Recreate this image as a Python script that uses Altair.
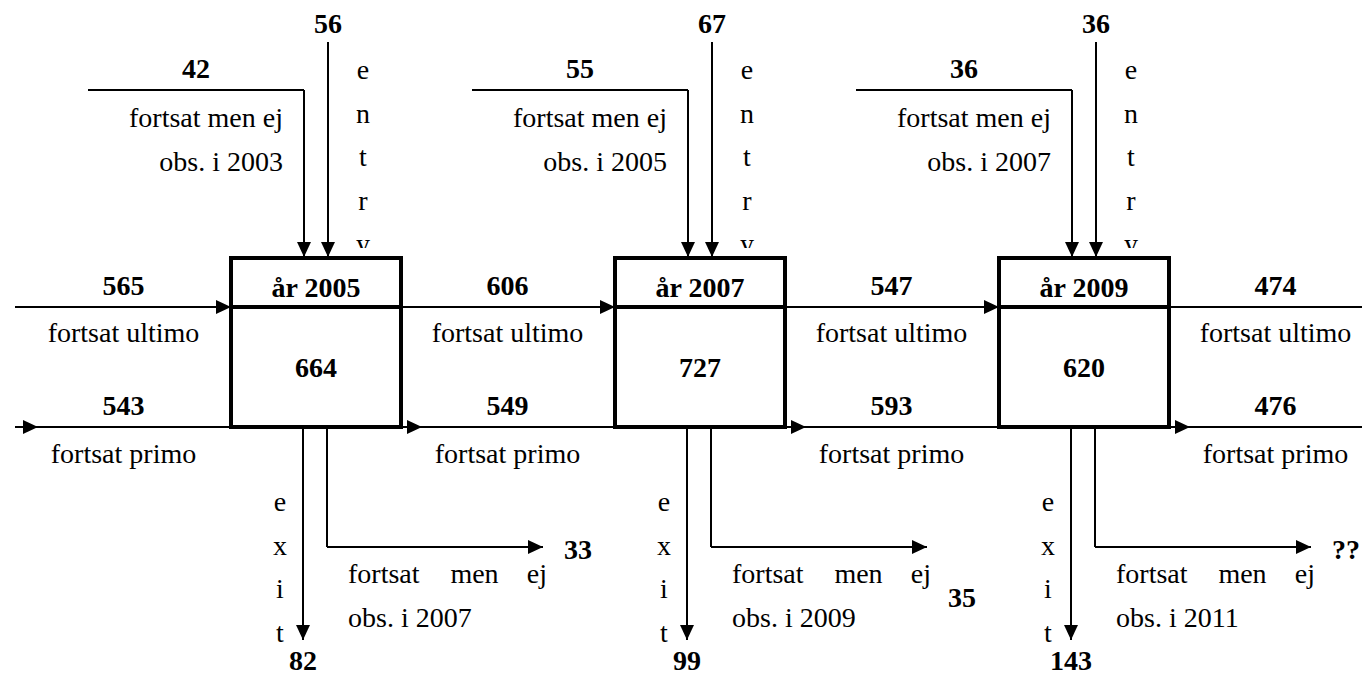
import altair as alt
import pandas as pd

# ---------------- data ----------------
years = [2005, 2007, 2009]
box_totals = [664, 727, 620]
entries = [56, 67, 36]
cont_unobserved_in = [42, 55, 36]
ultimo = [565, 606, 547, 474]
primo = [543, 549, 593, 476]
exits = [82, 99, 143]
cont_unobserved_out = ["33", "35", "??"]

# ---------------- layout (pixels) ----------------
FONT = "Liberation Serif"
FS = 28
X0, STEP, BW = 231, 384, 170
TOP, DIV, BOT = 258, 307, 427
out_label_dy = [0, 48, 0]


def bx(i):
    return X0 + i * STEP


thin, thick, boxes, masks = [], [], [], []
tips_right, tips_down = [], []
bold_c, reg_c, reg_r, reg_l = [], [], [], []

# main horizontal flow lines
thin.append(dict(x=15, y=DIV, x2=1376, y2=DIV))
thin.append(dict(x=15, y=BOT, x2=1376, y2=BOT))

for i in range(4):
    b = bx(i)
    tips_right.append(dict(x=b, y=DIV))
    tips_right.append(dict(x=b - 193, y=BOT))
    bold_c.append(dict(x=b - 107.5, y=295, t=str(ultimo[i])))
    reg_c.append(dict(x=b - 107.5, y=342, t="fortsat ultimo"))
    bold_c.append(dict(x=b - 107.5, y=415, t=str(primo[i])))
    reg_c.append(dict(x=b - 107.5, y=463, t="fortsat primo"))

for i, yr in enumerate(years):
    b = bx(i)
    # entry
    thin.append(dict(x=b + 97, y=42, x2=b + 97, y2=TOP))
    tips_down.append(dict(x=b + 97, y=TOP - 1))
    bold_c.append(dict(x=b + 97, y=33, t=str(entries[i])))
    for k, ch in enumerate("entry"):
        reg_c.append(dict(x=b + 132, y=79 + 43.6 * k, t=ch))
    masks.append(dict(x=b + 118, y=248, x2=b + 148, y2=TOP))
    # continuing but unobserved (in)
    thin.append(dict(x=b - 143, y=90, x2=b + 73, y2=90))
    thin.append(dict(x=b + 73, y=90, x2=b + 73, y2=TOP))
    tips_down.append(dict(x=b + 73, y=TOP - 1))
    bold_c.append(dict(x=b - 35, y=78, t=str(cont_unobserved_in[i])))
    reg_r.append(dict(x=b + 52, y=127, t="fortsat men ej"))
    reg_r.append(dict(x=b + 52, y=171, t=f"obs. i {yr - 2}"))
    # box
    boxes.append(dict(x=b, y=TOP, x2=b + BW, y2=BOT))
    thick.append(dict(x=b, y=DIV, x2=b + BW, y2=DIV))
    bold_c.append(dict(x=b + BW / 2, y=297, t=f"år {yr}"))
    bold_c.append(dict(x=b + BW / 2, y=377, t=str(box_totals[i])))
    # exit
    thin.append(dict(x=b + 72, y=BOT, x2=b + 72, y2=640))
    tips_down.append(dict(x=b + 72, y=640))
    bold_c.append(dict(x=b + 72, y=670, t=str(exits[i])))
    for k, ch in enumerate("exit"):
        reg_c.append(dict(x=b + 49, y=511 + 43.7 * k, t=ch))
    # continuing but unobserved (out)
    thin.append(dict(x=b + 96, y=BOT, x2=b + 96, y2=547))
    thin.append(dict(x=b + 96, y=547, x2=b + 312, y2=547))
    tips_right.append(dict(x=b + 312, y=547))
    bold_c.append(dict(x=b + 347, y=559 + out_label_dy[i], t=cont_unobserved_out[i]))
    reg_l.append(dict(x=b + 117, y=583, t="fortsat"))
    reg_c.append(dict(x=b + 243.5, y=583, t="men"))
    reg_r.append(dict(x=b + 316, y=583, t="ej"))
    reg_l.append(dict(x=b + 117, y=627, t=f"obs. i {yr + 2}"))

# ---------------- scales ----------------
xs = alt.Scale(domain=[8, 1362], nice=False, zero=False)
ys = alt.Scale(domain=[8, 677], nice=False, zero=False, reverse=True)


def X(f="x"):
    return alt.X(f"{f}:Q", scale=xs, axis=None)


def Y(f="y"):
    return alt.Y(f"{f}:Q", scale=ys, axis=None)


def rules(rows, w):
    return alt.Chart(pd.DataFrame(rows)).mark_rule(color="black", strokeWidth=w).encode(
        x=X(), y=Y(), x2="x2:Q", y2="y2:Q")


def texts(rows, align, bold):
    return alt.Chart(pd.DataFrame(rows)).mark_text(
        align=align, baseline="alphabetic", font=FONT, fontSize=FS,
        fontWeight="bold" if bold else "normal", color="black"
    ).encode(x=X(), y=Y(), text="t:N")


def tips(rows, path):
    return alt.Chart(pd.DataFrame(rows)).mark_point(
        shape=path, filled=True, size=225, color="black", opacity=1, strokeWidth=0
    ).encode(x=X(), y=Y())


right_path = "M0,0L-2,-0.93L-2,0.93Z"
down_path = "M0,0L-0.93,-2L0.93,-2Z"

layers = [
    rules(thin, 2),
    texts(reg_c, "center", False),
    texts(reg_r, "right", False),
    texts(reg_l, "left", False),
    alt.Chart(pd.DataFrame(masks)).mark_rect(color="white").encode(
        x=X(), y=Y(), x2="x2:Q", y2="y2:Q"),
    alt.Chart(pd.DataFrame(boxes)).mark_rect(fill="white", stroke="black", strokeWidth=4).encode(
        x=X(), y=Y(), x2="x2:Q", y2="y2:Q"),
    rules(thick, 4),
    texts(bold_c, "center", True),
    tips(tips_right, right_path),
    tips(tips_down, down_path),
]

chart = alt.layer(*layers).properties(
    width=1354, height=669, padding=0,
    autosize=alt.AutoSizeParams(type="none"),
    background="white",
).configure_view(stroke=None)

chart.save("out.html", embed_options={"renderer": "svg", "actions": False})
